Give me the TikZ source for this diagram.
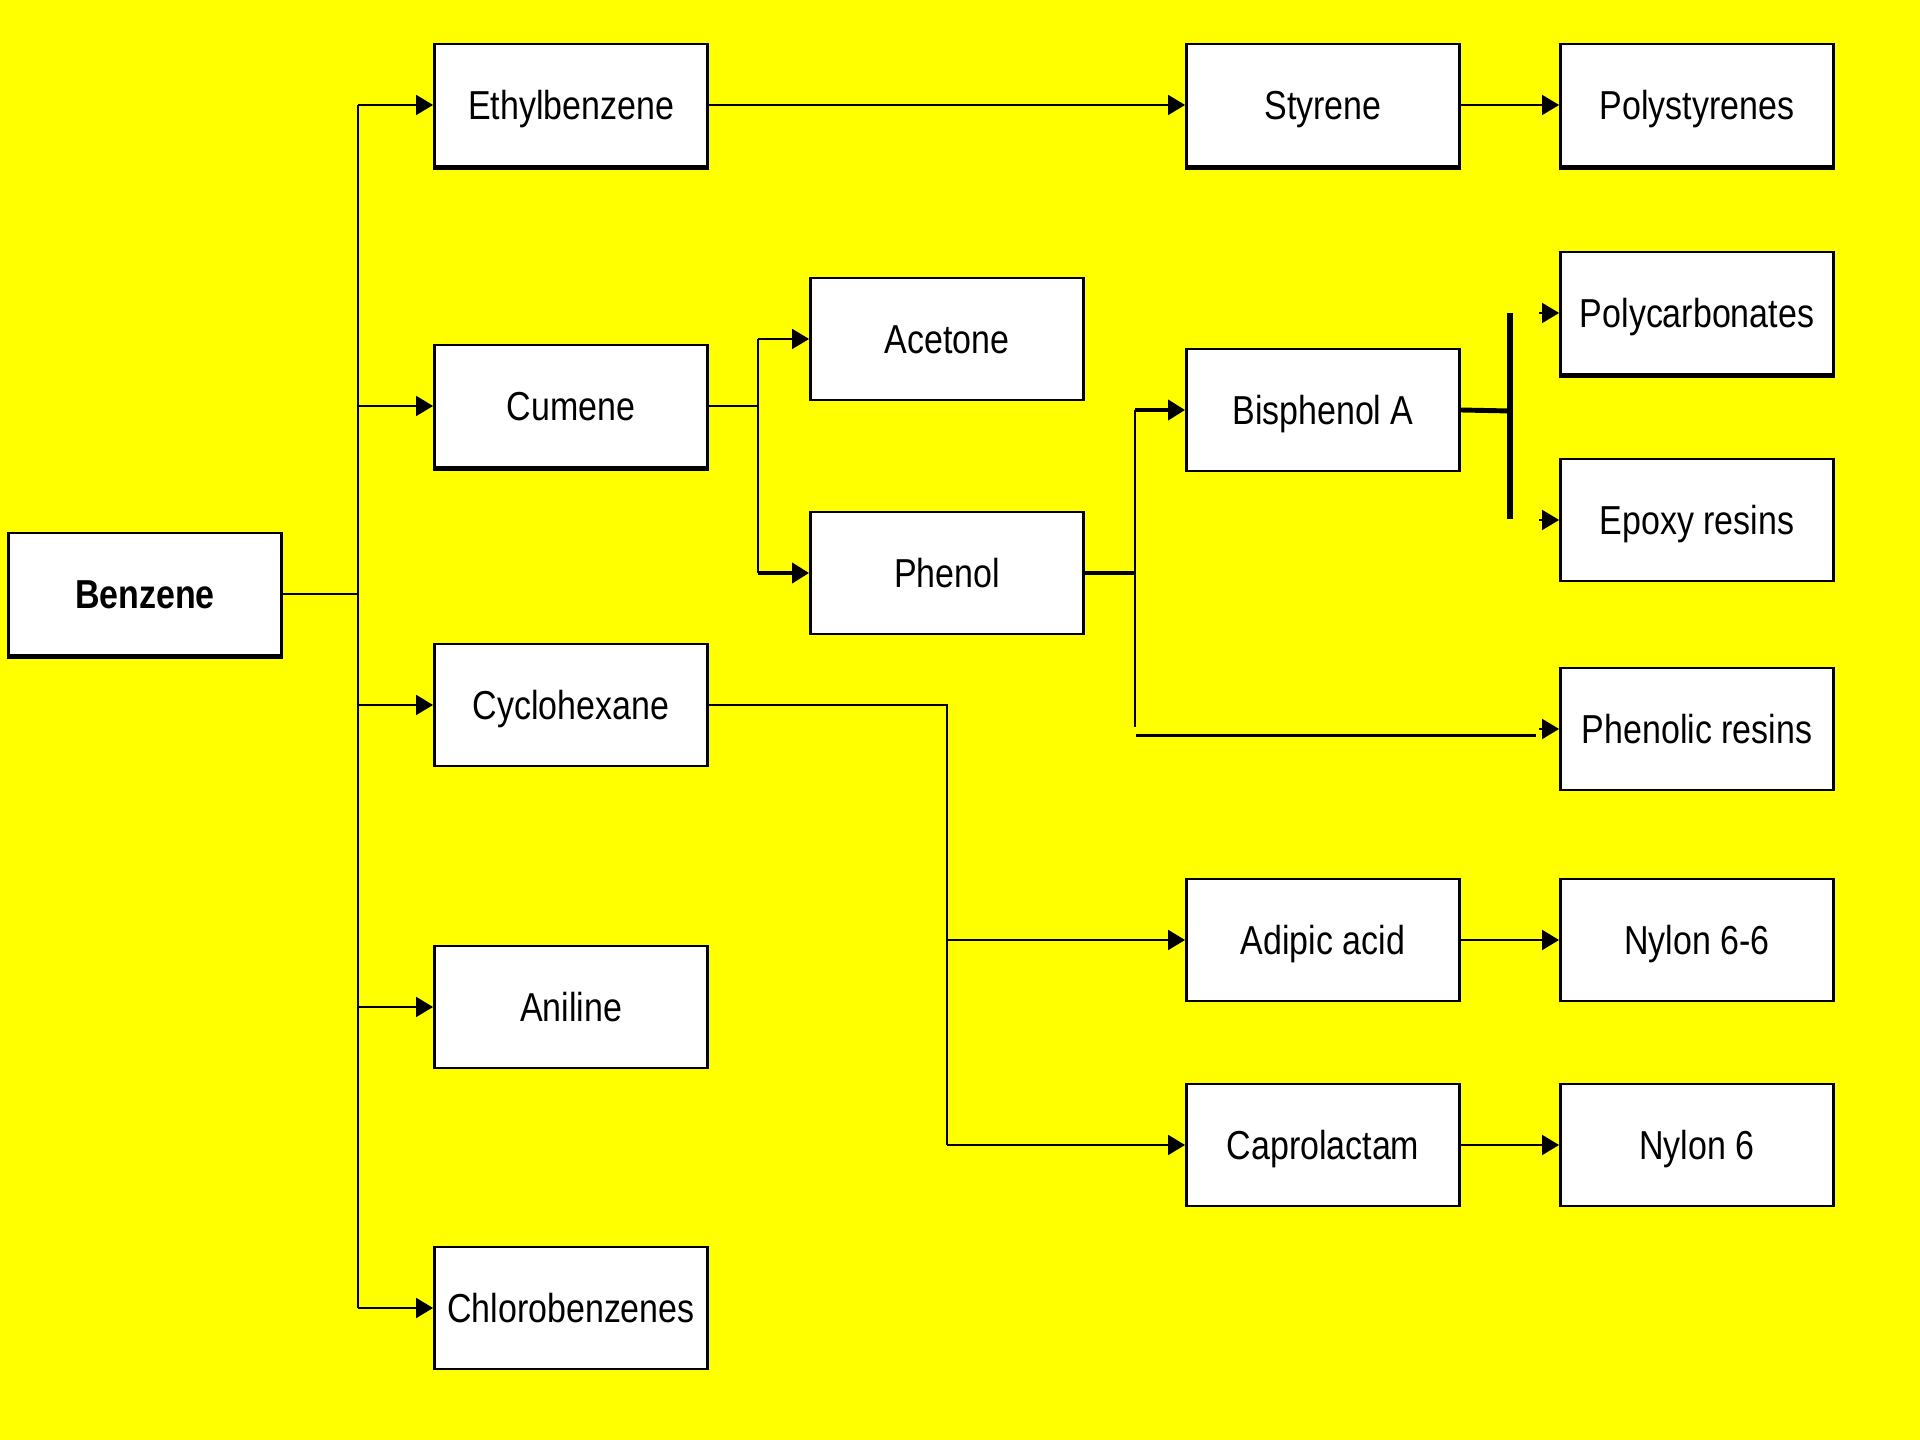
\documentclass[tikz,border=0pt]{standalone}
\usepackage{fontspec}
\setmainfont{Liberation Sans}[FakeStretch=0.84]
\usetikzlibrary{arrows.meta}
\definecolor{bgyellow}{RGB}{255,255,0}

\begin{document}
\begin{tikzpicture}[x=0.01cm,y=-0.01cm,
  box/.style={draw,fill=white,line width=0.75pt,minimum width=2.73cm,minimum height=1.22cm,inner sep=0pt,text height=8.3pt,text depth=0pt,font=\fontsize{11.5}{13}\selectfont},
  arr/.style={-{Triangle[length=4.8pt,width=5.6pt]},line width=0.6pt},
  thk/.style={line width=1.4pt}]

%background

\fill[bgyellow] (0,0) rectangle (1920,1440);

% boxes

\node[box,font=\fontsize{11.5}{13}\selectfont\bfseries] (benz) at (145,594) {Benzene};

\node[box] (eth) at (571,105) {Ethylbenzene};
\node[box] (cum) at (571,406) {Cumene};
\node[box] (cyc) at (571,705) {Cyclohexane};
\node[box] (ani) at (571,1007) {Aniline};
\node[box] (chl) at (571,1308) {Chlorobenzenes};

\node[box] (ace) at (947,339) {Acetone};
\node[box] (phe) at (947,573) {Phenol};

\node[box] (sty) at (1323,105) {Styrene};
\node[box] (bpa) at (1323,410) {Bisphenol A};
\node[box] (adi) at (1323,940) {Adipic acid};
\node[box] (cap) at (1323,1145) {Caprolactam};

\node[box] (pst) at (1697,105) {Polystyrenes};
\node[box] (pcb) at (1697,313) {Polycarbonates};
\node[box] (epo) at (1697,520) {Epoxy resins};
\node[box] (phr) at (1697,729) {Phenolic resins};
\node[box] (n66) at (1697,940) {Nylon 6-6};
\node[box] (n6) at (1697,1145) {Nylon 6};

% heavy bottom edges

\draw[line width=1.6pt] (benz.south west) -- (benz.south east);
\draw[line width=1.6pt] (eth.south west) -- (eth.south east);
\draw[line width=1.6pt] (cum.south west) -- (cum.south east);
\draw[line width=1.6pt] (sty.south west) -- (sty.south east);
\draw[line width=1.6pt] (pst.south west) -- (pst.south east);
\draw[line width=1.6pt] (pcb.south west) -- (pcb.south east);

% junctions

\coordinate (jb) at (358,594);
\coordinate (jc) at (758,406);
\coordinate (jy) at (947,705);
\coordinate (jp) at (1135,573);
\coordinate (jpe) at (1135,727);
\coordinate (ja) at (1510,411);
\coordinate (bt) at (1510,313);
\coordinate (bb) at (1510,519);
\coordinate (pl) at (1136,736);
\coordinate (pr) at (1536,736);

% benzene

\draw[line width=0.6pt] (benz.east) -- (jb);
\draw[line width=0.6pt] (jb |- eth.west) -- (jb |- chl.west);
\draw[arr] (jb |- eth.west) -- (eth.west);
\draw[arr] (jb |- cum.west) -- (cum.west);
\draw[arr] (jb |- cyc.west) -- (cyc.west);
\draw[arr] (jb |- ani.west) -- (ani.west);
\draw[arr] (jb |- chl.west) -- (chl.west);

% cumene

\draw[line width=0.6pt] (cum.east) -- (jc);
\draw[line width=0.6pt] (jc |- ace.west) -- (jc |- phe.west);
\draw[arr] (jc |- ace.west) -- (ace.west);
\draw[arr,thk] (jc |- phe.west) -- (phe.west);

% phenol

\draw[thk] (phe.east) -- (jp);
\draw[line width=0.6pt] (jp |- bpa.west) -- (jpe);
\draw[arr,thk] (jp |- bpa.west) -- (bpa.west);
\draw[line width=0.85pt] (pl) -- (pr);
\draw[arr] ([xshift=-0.2cm]phr.west) -- (phr.west);

% bisphenol A

\draw[thk] (bpa.east) -- (ja);
\draw[line width=1.5pt] (bt) -- (bb);
\draw[arr] ([xshift=-0.2cm]pcb.west) -- (pcb.west);
\draw[arr] ([xshift=-0.2cm]epo.west) -- (epo.west);

% cyclohexane

\draw[line width=0.6pt] (cyc.east) -- (jy) -- (jy |- cap.west);
\draw[arr] (jy |- adi.west) -- (adi.west);
\draw[arr] (jy |- cap.west) -- (cap.west);

% chains

\draw[arr] (eth.east) -- (sty.west);
\draw[arr] (sty.east) -- (pst.west);
\draw[arr] (adi.east) -- (n66.west);
\draw[arr] (cap.east) -- (n6.west);
\end{tikzpicture}
\end{document}
